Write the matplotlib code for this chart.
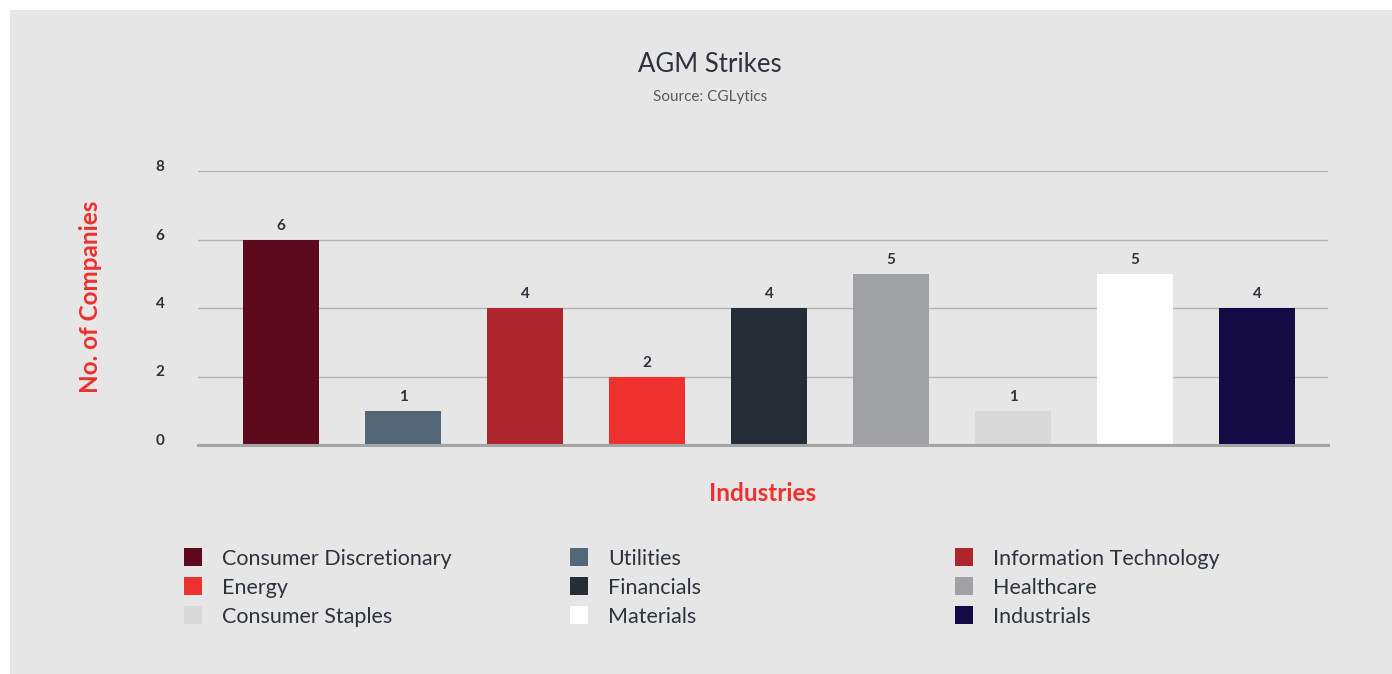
import matplotlib
matplotlib.use("Agg")
import matplotlib.pyplot as plt
from matplotlib.patches import Rectangle

plt.rcParams['font.family'] = ['Lato', 'DejaVu Sans']

industries = ["Consumer Discretionary", "Utilities", "Information Technology",
              "Energy", "Financials", "Healthcare",
              "Consumer Staples", "Materials", "Industrials"]
companies = [6, 1, 4, 2, 4, 5, 1, 5, 4]
colors = ["#5e0a1e", "#546777", "#ae252e", "#ee302e", "#262d37",
          "#a0a1a5", "#d9d9d9", "#ffffff", "#140a44"]
yticks = [0, 2, 4, 6, 8]

W, H = 1392, 674
text_dark = "#2d333d"
red = "#ee302e"

fig = plt.figure(figsize=(W / 100, H / 100), dpi=100)
fig.patch.set_facecolor("white")
# grey card behind everything
fig.patches.append(Rectangle((10 / W, 0), 1 - 10 / W, 1 - 10 / H,
                             transform=fig.transFigure, facecolor="#e6e6e6",
                             edgecolor="none", zorder=-10))

ax = fig.add_axes([198 / W, (H - 445) / H, (1328 - 198) / W, (445 - 171) / H])
ax.set_facecolor("none")

x = list(range(len(industries)))
bars = ax.bar(x, companies, width=0.62, color=colors, zorder=3)
for xi, v in zip(x, companies):
    ax.annotate(str(v), (xi, v), xytext=(0, 5), textcoords="offset points",
                ha="center", va="bottom", fontsize=11, fontweight="bold",
                color=text_dark)

ax.set_xlim((198 - 281) / 122, (1328 - 281) / 122)
ax.set_ylim(0, 8)
ax.set_yticks(yticks)
ax.set_xticks([])
ax.tick_params(axis="y", length=0, pad=24, labelsize=11, labelcolor=text_dark)
for lab in ax.get_yticklabels():
    lab.set_fontweight("bold")
    lab.set_verticalalignment("baseline")
ax.yaxis.grid(True, color="#b3b3b3", linewidth=1)
ax.set_axisbelow(True)
for s in ax.spines.values():
    s.set_visible(False)
ax.axhline(0, color="#a5a5a5", linewidth=2.2, zorder=4, clip_on=False)

ax.set_ylabel("No. of Companies", fontsize=17.5, fontweight="bold", color=red)
ax.yaxis.set_label_coords(-0.085, 0.54)
ax.set_xlabel("Industries", fontsize=17.5, fontweight="bold", color=red)
ax.xaxis.set_label_coords(0.5, -0.135)

fig.text(710 / W, 1 - 65 / H, "AGM Strikes", ha="center", va="center",
         fontsize=18.5, color=text_dark)
fig.text(710 / W, 1 - 97 / H, "Source: CGLytics", ha="center", va="center",
         fontsize=11, color="#555b63")

# legend laid out row by row, three columns
col_x = [184, 570, 955]
row_y = [557, 586, 615]
for i, (name, c) in enumerate(zip(industries, colors)):
    r, k = divmod(i, 3)
    fig.patches.append(Rectangle((col_x[k] / W, 1 - (row_y[r] + 9) / H), 18 / W, 18 / H,
                                 transform=fig.transFigure, facecolor=c,
                                 edgecolor="none"))
    fig.text((col_x[k] + 38) / W, 1 - row_y[r] / H, name, ha="left",
             va="center_baseline", fontsize=15.5, color=text_dark)

fig.savefig("out.png", dpi=100)
